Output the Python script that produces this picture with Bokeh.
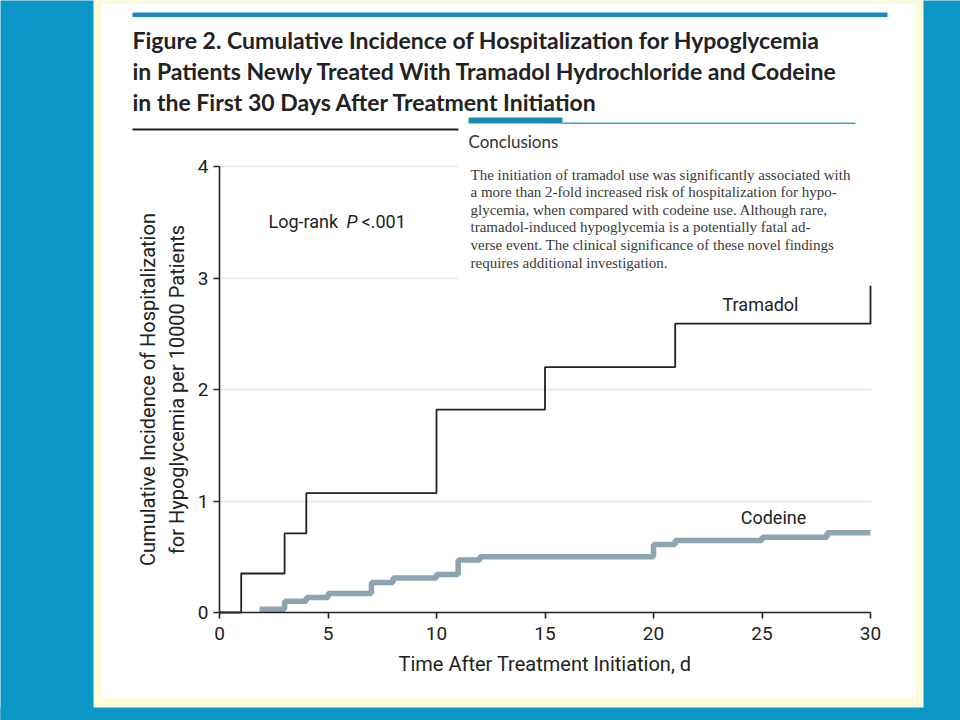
from bokeh.plotting import figure
from bokeh.models import Range1d, FixedTicker, Label, BoxAnnotation
from bokeh.embed import file_html
from bokeh.resources import INLINE

# ---- data ----
tramadol_days = [0, 1, 3, 4, 10, 15, 21, 30]
tramadol_inc = [0, 0.35, 0.71, 1.07, 1.82, 2.20, 2.59, 2.93]
codeine_days = [1.85, 3, 4, 5, 7, 8, 10, 11, 12, 20, 21, 25, 28, 30]
codeine_inc = [0.03, 0.10, 0.135, 0.17, 0.27, 0.31, 0.34, 0.47, 0.50, 0.61, 0.645, 0.675, 0.715, 0.715]
x_ticks = [0, 5, 10, 15, 20, 25, 30]
y_ticks = [0, 1, 2, 3, 4]
grid_levels = [1, 2, 3, 4]

title_lines = [
    "Figure 2. Cumulative Incidence of Hospitalization for Hypoglycemia",
    "in Patients Newly Treated With Tramadol Hydrochloride and Codeine",
    "in the First 30 Days After Treatment Initiation",
]
conclusion_lines = [
    "The initiation of tramadol use was significantly associated with",
    "a more than 2-fold increased risk of hospitalization for hypo-",
    "glycemia, when compared with codeine use. Although rare,",
    "tramadol-induced hypoglycemia is a potentially fatal ad-",
    "verse event. The clinical significance of these novel findings",
    "requires additional investigation.",
]

# ---- geometry (canvas pixels) ----
W, H = 960, 720
FX0, FX1, FY0, FY1 = 219, 870, 612, 166   # where x=0..30 and y=0..4 sit
XMAX, YMAX = 30, 4

def X(px):
    return (px - FX0) / (FX1 - FX0) * XMAX

def Y(py):
    return (FY0 - py) / (FY0 - FY1) * YMAX

BLUE = "#0b96c8"
CREAM = "#fdfcd8"
INK = "#222222"

p = figure(width=W, height=H, output_backend="svg", toolbar_location=None,
           x_range=Range1d(X(0), X(W)), y_range=Range1d(Y(H), Y(0)),
           min_border=0, min_border_left=0, min_border_right=0,
           min_border_top=0, min_border_bottom=0)
p.border_fill_color = "white"
p.background_fill_color = "white"
p.outline_line_color = None

def box(l, r, t, b, color, level="underlay"):
    bx = BoxAnnotation(left=X(l), right=X(r), top=Y(t), bottom=Y(b),
                       fill_color=color, fill_alpha=1, line_color=None, level=level)
    p.add_layout(bx)
    return bx

# grid (drawn first at underlay level)
p.xgrid.visible = False
p.ygrid.ticker = FixedTicker(ticks=grid_levels)
p.ygrid.grid_line_color = "#e4e4e4"
p.ygrid.grid_line_width = 1.5

# panel around the plot, drawn over the grid's overhang
box(100, 218.4, 3, 698, "white")
box(870.6, 916, 3, 698, "white")
box(92, 101, -1, 708, CREAM)
box(915, 924, -1, 708, CREAM)
box(92, 924, 697, 708, CREAM)
box(92, 924, -1, 3.5, CREAM)
box(-1, 93, -1, H + 1, BLUE)
box(923, W + 1, -1, H + 1, BLUE)
box(-1, W + 1, 707, H + 1, BLUE)

# axes, pinned at the data origin
p.xaxis.fixed_location = 0
p.yaxis.fixed_location = 0
p.xaxis.bounds = (0, XMAX)
p.yaxis.bounds = (0, YMAX)
for ax in (p.xaxis[0], p.yaxis[0]):
    ax.axis_line_color = INK
    ax.axis_line_width = 1.6
    ax.major_tick_line_color = INK
    ax.major_tick_line_width = 1.6
    ax.major_tick_in = 0
    ax.major_tick_out = 6
    ax.minor_tick_line_color = None
    ax.major_label_text_font = "Roboto"
    ax.major_label_text_font_size = "19px"
    ax.major_label_text_color = INK
    ax.axis_label_text_font = "Roboto"
    ax.axis_label_text_font_size = "20px"
    ax.axis_label_text_font_style = "normal"
    ax.axis_label_text_color = INK

p.xaxis.ticker = FixedTicker(ticks=x_ticks)
p.yaxis.ticker = FixedTicker(ticks=y_ticks)
p.xaxis.major_label_standoff = 8
p.yaxis.major_label_standoff = 5
p.xaxis.axis_label = "Time After Treatment Initiation, d"
p.xaxis.axis_label_standoff = 9
p.yaxis.axis_label = "Cumulative Incidence of Hospitalization\nfor Hypoglycemia per 10000 Patients"
p.yaxis.axis_label_standoff = 6

# curves
p.step(codeine_days, codeine_inc, mode="after", line_color="#8ca5b0", line_width=5.5)
p.step(tramadol_days, tramadol_inc, mode="after", line_color=INK, line_width=1.8)

def lab(text, px, py, size, font="Roboto", style="normal", color=INK, align="left",
        baseline="middle"):
    l = Label(x=X(px), y=Y(py), text=text, text_font=font, text_font_size=size,
              text_font_style=style, text_color=color, text_align=align,
              text_baseline=baseline)
    p.add_layout(l)
    return l

lab("Tramadol", 760, 304, "18px", align="center")
lab("Codeine", 773, 517, "18px", align="center")
lab("Log-rank", 268, 221, "18px")
lab("P", 346, 221, "18px", style="italic")
lab("<.001", 361, 221, "18px")

# header decorations
box(132, 887, 12, 16.5, "#1a8cc0", level="annotation")
box(132, 470, 128, 130, "#222222", level="annotation")
for i, t in enumerate(title_lines):
    lab(t, 132, 39 + 31 * i, "23px", font="Lato", style="bold", color="#222222")

# conclusions inset
box(458, 880, 115, 283, "white", level="annotation")
box(468, 562, 117, 123, "#1b8bb8", level="annotation")
box(562, 855, 122, 123.5, "#3aa2c4", level="annotation")
lab("Conclusions", 468, 141, "17px", font="Lato", color="#333333")
for i, t in enumerate(conclusion_lines):
    lab(t, 470, 174 + 17.6 * i, "15px", font="Liberation Serif", color="#3a3a3a")

open("out.html", "w").write(file_html(p, INLINE))
